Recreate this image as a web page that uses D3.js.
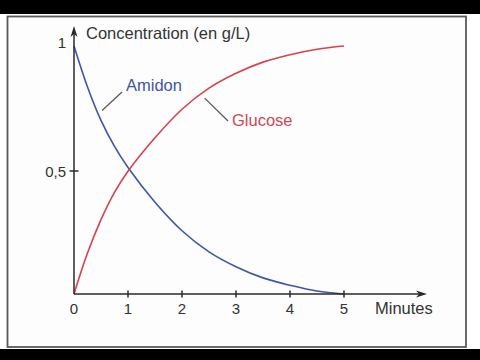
<!DOCTYPE html>
<html><head><meta charset="utf-8">
<script src="https://cdn.jsdelivr.net/npm/d3@7"></script>
<style>body{margin:0;background:#fff}svg{display:block}</style>
</head><body>
<svg id="c" width="480" height="360"></svg>
<script>
const minutes = [0, 0.25, 0.5, 0.75, 1, 1.5, 2, 2.5, 3, 3.5, 4, 4.5, 5];
const amidon  = [1, 0.835, 0.70, 0.595, 0.51, 0.37, 0.255, 0.17, 0.11, 0.065, 0.035, 0.012, 0];
const glucose = [0, 0.165, 0.30, 0.41, 0.495, 0.63, 0.745, 0.83, 0.89, 0.935, 0.965, 0.987, 1.0];
const xTicks = [0, 1, 2, 3, 4, 5];
const xTickLabels = ["0", "1", "2", "3", "4", "5"];
const yTicks = [0.5, 1];
const yTickLabels = ["0,5", "1"];
const seriesNames = ["Amidon", "Glucose"];
const xTitle = "Minutes";
const yTitle = "Concentration (en g/L)";

const svg = d3.select("#c");
const x = d3.scaleLinear().domain([0, 5]).range([74, 344]);
const y = d3.scaleLinear().domain([0, 1]).range([294, 46]);
const font = "'Liberation Sans', Arial, sans-serif";
const blue = "#3e56a6", red = "#d8424c", axisC = "#2a2a2a";

// letterbox bands and frame
svg.append("rect").attr("x",0).attr("y",0).attr("width",480).attr("height",14).attr("fill","#000");
svg.append("rect").attr("x",0).attr("y",349).attr("width",480).attr("height",11).attr("fill","#000");
svg.append("rect").attr("x",7.5).attr("y",16.5).attr("width",458.5).attr("height",330.5)
  .attr("fill","#fdfdfd").attr("stroke","#5a5a5a").attr("stroke-width",1.8);

// curves
const line = d3.line().x(d => x(d[0])).y(d => y(d[1])).curve(d3.curveCatmullRom.alpha(0.5));
svg.append("path").datum(minutes.map((m,i)=>[m, amidon[i]])).attr("d", line)
  .attr("fill","none").attr("stroke",blue).attr("stroke-width",1.6);
svg.append("path").datum(minutes.map((m,i)=>[m, glucose[i]])).attr("d", line)
  .attr("fill","none").attr("stroke",red).attr("stroke-width",1.6);

// axes
const x0 = x(0), y0 = y(0);
svg.append("line").attr("x1",x0).attr("y1",y0).attr("x2",421).attr("y2",y0).attr("stroke",axisC).attr("stroke-width",1.5);
svg.append("line").attr("x1",x0).attr("y1",y0).attr("x2",x0).attr("y2",32).attr("stroke",axisC).attr("stroke-width",1.5);
svg.append("path").attr("d",`M${x0},26 L${x0-3.5},37 L${x0},34 L${x0+3.5},37 Z`).attr("fill",axisC);
svg.append("path").attr("d",`M427,${y0} L416,${y0-3.5} L419,${y0} L416,${y0+3.5} Z`).attr("fill",axisC);

// x ticks
xTicks.forEach((t,i) => {
  if (t > 0) svg.append("line").attr("x1",x(t)).attr("x2",x(t)).attr("y1",y0-3.5).attr("y2",y0+3.5)
    .attr("stroke",axisC).attr("stroke-width",1.5);
  svg.append("text").attr("x",x(t)).attr("y",314).attr("text-anchor","middle")
    .attr("font-family",font).attr("font-size",15).attr("fill","#333").text(xTickLabels[i]);
});
// y ticks
yTicks.forEach((t,i) => {
  if (t < 1) svg.append("line").attr("x1",x0-4.5).attr("x2",x0+4.5).attr("y1",y(t)+1).attr("y2",y(t)+1)
    .attr("stroke",axisC).attr("stroke-width",1.5);
  svg.append("text").attr("x",66).attr("y",t<1?y(t)+7:y(t)+2).attr("text-anchor","end")
    .attr("font-family",font).attr("font-size",15).attr("fill","#333").text(yTickLabels[i]);
});

svg.append("text").attr("x",375).attr("y",314).attr("font-family",font).attr("font-size",16.5)
  .attr("fill","#333").text(xTitle);
svg.append("text").attr("x",86).attr("y",39).attr("font-family",font).attr("font-size",16.5)
  .attr("fill","#333").text(yTitle);

// annotations
svg.append("line").attr("x1",x(0.52)).attr("y1",y(0.74)).attr("x2",122).attr("y2",92)
  .attr("stroke","#555").attr("stroke-width",1.2);
svg.append("text").attr("x",126).attr("y",91).attr("font-family",font).attr("font-size",16.5)
  .attr("fill",blue).text(seriesNames[0]);
svg.append("line").attr("x1",x(2.42)).attr("y1",y(0.79)).attr("x2",228).attr("y2",121)
  .attr("stroke","#555").attr("stroke-width",1.2);
svg.append("text").attr("x",232).attr("y",126).attr("font-family",font).attr("font-size",16.5)
  .attr("fill","#c94a55").text(seriesNames[1]);
</script>
</body></html>
